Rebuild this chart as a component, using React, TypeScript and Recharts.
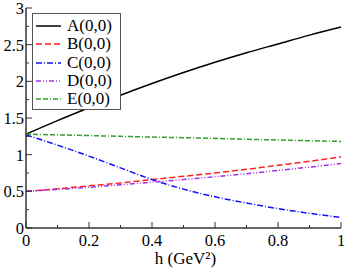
import React from 'react';
import { LineChart, Line, XAxis, YAxis } from 'recharts';

const hValues = [0, 0.1, 0.2, 0.3, 0.4, 0.5, 0.6, 0.7, 0.8, 0.9, 1.0];
const seriesA = [1.28, 1.465, 1.64, 1.81, 1.97, 2.12, 2.26, 2.39, 2.51, 2.63, 2.74];
const seriesB = [0.5, 0.535, 0.575, 0.615, 0.66, 0.705, 0.75, 0.8, 0.855, 0.91, 0.97];
const seriesC = [1.27, 1.13, 0.98, 0.82, 0.66, 0.53, 0.425, 0.34, 0.265, 0.2, 0.145];
const seriesD = [0.5, 0.525, 0.555, 0.59, 0.625, 0.66, 0.7, 0.74, 0.785, 0.83, 0.88];
const seriesE = [1.28, 1.27, 1.26, 1.25, 1.24, 1.232, 1.222, 1.21, 1.2, 1.19, 1.18];

const xTicks = [0, 0.1, 0.2, 0.3, 0.4, 0.5, 0.6, 0.7, 0.8, 0.9, 1.0];
const xMajorLabels: Record<string, string> = { '0': '0', '0.2': '0.2', '0.4': '0.4', '0.6': '0.6', '0.8': '0.8', '1': '1' };
const yTicks = [0, 0.25, 0.5, 0.75, 1, 1.25, 1.5, 1.75, 2, 2.25, 2.5, 2.75, 3];
const yMajorLabels: Record<string, string> = { '0': '0', '0.5': '0.5', '1': '1', '1.5': '1.5', '2': '2', '2.5': '2.5', '3': '3' };

const seriesNames = ['A(0,0)', 'B(0,0)', 'C(0,0)', 'D(0,0)', 'E(0,0)'];
const seriesColors = ['#000000', '#ff2020', '#1010ff', '#a030e8', '#30a030'];
const seriesDash = ['', '6 3', '6 2 1 2', '5 2 1 2 1 2', '5 2 5 2 1 2'];
const xAxisTitle = 'h (GeV²)';

const data = hValues.map((h, i) => ({
  h,
  A: seriesA[i],
  B: seriesB[i],
  C: seriesC[i],
  D: seriesD[i],
  E: seriesE[i],
}));
const keys = ['A', 'B', 'C', 'D', 'E'];

const FONT = '"Times New Roman", "Liberation Serif", monospace';
const AXIS = '#333';
const MARGIN = 4;

const BottomTick = (props: any) => {
  const { x, y, payload } = props;
  const label = xMajorLabels[String(payload.value)];
  const ay = y - MARGIN;
  const len = label !== undefined ? 6 : 3;
  return (
    <g>
      <line x1={x} x2={x} y1={ay} y2={ay - len} stroke={AXIS} strokeWidth={1} />
      {label !== undefined && (
        <text x={x} y={ay + 18} textAnchor="middle" style={{ fontFamily: FONT, fontSize: 16.5 }} fill="#000">
          {label}
        </text>
      )}
    </g>
  );
};

const TopTick = (props: any) => {
  const { x, y, payload } = props;
  const label = xMajorLabels[String(payload.value)];
  const ay = y + MARGIN;
  const len = label !== undefined ? 6 : 3;
  return <line x1={x} x2={x} y1={ay} y2={ay + len} stroke={AXIS} strokeWidth={1} />;
};

const LeftTick = (props: any) => {
  const { x, y, payload } = props;
  const label = yMajorLabels[String(payload.value)];
  const ax = x + MARGIN;
  const len = label !== undefined ? 6 : 3;
  return (
    <g>
      <line x1={ax} x2={ax + len} y1={y} y2={y} stroke={AXIS} strokeWidth={1} />
      {label !== undefined && (
        <text x={ax - 2} y={y + 6} textAnchor="end" style={{ fontFamily: FONT, fontSize: 16.5 }} fill="#000">
          {label}
        </text>
      )}
    </g>
  );
};

const RightTick = (props: any) => {
  const { x, y, payload } = props;
  const label = yMajorLabels[String(payload.value)];
  const ax = x - MARGIN;
  const len = label !== undefined ? 6 : 3;
  return <line x1={ax} x2={ax - len} y1={y} y2={y} stroke={AXIS} strokeWidth={1} />;
};

const LegendBox = () => (
  <div
    style={{
      position: 'absolute',
      left: 32,
      top: 13,
      border: '1px solid #555',
      background: '#fff',
      width: 89,
      height: 97,
      boxSizing: 'border-box',
      paddingTop: 3,
    }}
  >
    {seriesNames.map((n, i) => (
      <div key={n} style={{ display: 'flex', alignItems: 'center', height: 18.3 }}>
        <svg width={34} height={10} style={{ display: 'block', flex: 'none' }}>
          <line x1={3} x2={28} y1={5} y2={5} stroke={seriesColors[i]} strokeWidth={1.5} strokeDasharray={seriesDash[i] || undefined} />
        </svg>
        <span style={{ fontFamily: FONT, fontSize: 17, lineHeight: '18px', color: '#000', whiteSpace: 'nowrap' }}>{n}</span>
      </div>
    ))}
  </div>
);

export default function App() {
  return (
    <div style={{ position: 'absolute', left: 0, top: 0, width: 345, height: 271, background: '#fff' }}>
      <LineChart width={345} height={271} data={data} margin={{ top: 8, right: 4, bottom: 0, left: 0 }}>
        <XAxis
          xAxisId="b"
          dataKey="h"
          type="number"
          domain={[0, 1]}
          ticks={xTicks}
          interval={0}
          height={43}
          tickLine={false}
          tickSize={0}
          tickMargin={MARGIN}
          axisLine={{ stroke: AXIS, strokeWidth: 1.5 }}
          tick={<BottomTick />}
        />
        <XAxis
          xAxisId="t"
          orientation="top"
          dataKey="h"
          type="number"
          domain={[0, 1]}
          ticks={xTicks}
          interval={0}
          height={0}
          tickLine={false}
          tickSize={0}
          tickMargin={MARGIN}
          axisLine={{ stroke: AXIS, strokeWidth: 1.5 }}
          tick={<TopTick />}
        />
        <YAxis
          yAxisId="l"
          type="number"
          domain={[0, 3]}
          ticks={yTicks}
          interval={0}
          width={26}
          tickLine={false}
          tickSize={0}
          tickMargin={MARGIN}
          axisLine={{ stroke: AXIS, strokeWidth: 1.5 }}
          tick={<LeftTick />}
        />
        <YAxis
          yAxisId="r"
          orientation="right"
          type="number"
          domain={[0, 3]}
          ticks={yTicks}
          interval={0}
          width={0}
          tickLine={false}
          tickSize={0}
          tickMargin={MARGIN}
          axisLine={{ stroke: AXIS, strokeWidth: 1.5 }}
          tick={<RightTick />}
        />
        {keys.map((k, i) => (
          <Line
            key={k}
            xAxisId="b"
            yAxisId="l"
            type="monotone"
            dataKey={k}
            name={seriesNames[i]}
            stroke={seriesColors[i]}
            strokeWidth={1.5}
            strokeDasharray={seriesDash[i] || undefined}
            dot={false}
            isAnimationActive={false}
          />
        ))}
      </LineChart>
      <LegendBox />
      <div
        style={{
          position: 'absolute',
          left: 0,
          width: 345,
          top: 249,
          textAlign: 'center',
          paddingLeft: 26,
          boxSizing: 'border-box',
          fontFamily: FONT,
          fontSize: 17,
          lineHeight: '20px',
          color: '#000',
          whiteSpace: 'nowrap',
        }}
      >
        {xAxisTitle}
      </div>
    </div>
  );
}
